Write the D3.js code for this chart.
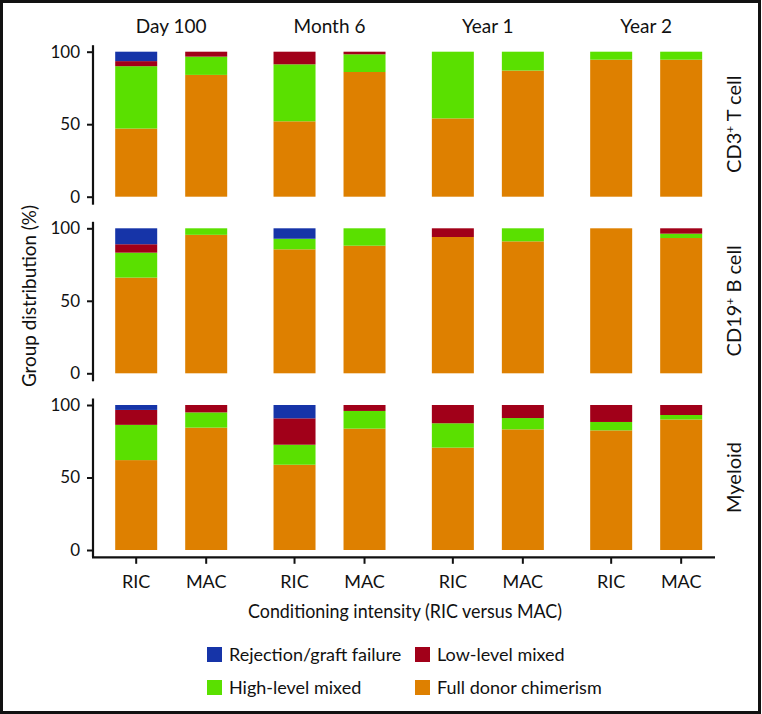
<!DOCTYPE html>
<html>
<head>
<meta charset="utf-8">
<script src="https://d3js.org/d3.v7.min.js"></script>
<style>
  body { margin: 0; background: #fff; }
  text { font-family: Lato, "Open Sans", sans-serif; fill: #111; }
</style>
</head>
<body>
<div id="chart"></div>
<script>
// data
const timepoints = ["Day 100", "Month 6", "Year 1", "Year 2"];
const arms = ["RIC", "MAC"];
const panels = ["CD3+ T cell", "CD19+ B cell", "Myeloid"];
const categories = ["full", "high", "low", "reject"];
const categoryLabels = ["Full donor chimerism", "High-level mixed", "Low-level mixed", "Rejection/graft failure"];
const yTicks = [0, 50, 100];

// each row: [full, high, low, reject] for RIC/MAC at each timepoint
const tcell = [
  [47, 43, 3.5, 6.5], [84, 12.6, 3.4, 0],
  [52, 39.3, 8.7, 0], [86, 12.2, 1.8, 0],
  [54, 46, 0, 0], [87, 13, 0, 0],
  [94.5, 5.5, 0, 0], [94.5, 5.5, 0, 0]
];
const bcell = [
  [66, 17.2, 5.8, 11], [95.5, 4.5, 0, 0],
  [85.5, 7.3, 0, 7.2], [88, 12, 0, 0],
  [94, 0, 6, 0], [91, 9, 0, 0],
  [100, 0, 0, 0], [93.3, 3, 3.7, 0]
];
const myeloid = [
  [62, 24.3, 10.3, 3.4], [84.4, 10.5, 5.1, 0],
  [58.8, 13.8, 18.2, 9.2], [83.7, 12.2, 4.1, 0],
  [70.6, 16.8, 12.6, 0], [83.2, 7.8, 9, 0],
  [82.5, 5.8, 11.7, 0], [90, 3.1, 6.9, 0]
];
const panelData = [tcell, bcell, myeloid];

const colors = {full: "#de8000", high: "#5ae000", low: "#a10019", reject: "#1634a8"};

const W = 762, H = 714;
const svg = d3.select("#chart").append("svg")
  .attr("width", W).attr("height", H);

// frame
svg.append("rect").attr("x", 1.5).attr("y", 1.5).attr("width", W - 4).attr("height", H - 3)
  .attr("fill", "none").attr("stroke", "#111").attr("stroke-width", 3);

const x = d3.scaleBand().domain(timepoints).range([92, 725.3]);
const xi = d3.scalePoint().domain(arms).range([44.2, 114.2]);
const barW = 42;
const panelTops = [51.7, 228.3, 405];
const panelH = 145;

panelData.forEach((rows, p) => {
  const y = d3.scaleLinear().domain([0, 100]).range([panelTops[p] + panelH, panelTops[p]]);
  const g = svg.append("g");

  // stack the rows
  const table = rows.map((r, i) => ({
    tp: timepoints[Math.floor(i / 2)], arm: arms[i % 2],
    full: r[0], high: r[1], low: r[2], reject: r[3]
  }));
  const stacked = d3.stack().keys(categories)(table);

  g.selectAll("g.layer").data(stacked).enter().append("g")
    .attr("fill", d => colors[d.key])
    .selectAll("rect").data(d => d).enter().append("rect")
    .attr("x", d => x(d.data.tp) + xi(d.data.arm) - barW / 2)
    .attr("width", barW)
    .attr("y", d => y(d[1]))
    .attr("height", d => y(d[0]) - y(d[1]));

  // y axis
  const ax = g.append("g").attr("transform", "translate(93,0)")
    .call(d3.axisLeft(y).tickValues(yTicks).tickSize(6).tickPadding(7));
  ax.select(".domain").remove();
  ax.selectAll(".tick line").attr("stroke", "#111").attr("stroke-width", 2);
  ax.selectAll(".tick text").style("font-size", "17px").attr("fill", "#111");
  const bottomEnd = p === 2 ? y(0) + 7.3 : y(0) + 8;
  g.append("line").attr("x1", 93).attr("x2", 93)
    .attr("y1", y(100) - 6.5).attr("y2", bottomEnd)
    .attr("stroke", "#111").attr("stroke-width", 2.2);

  // panel label on the right
  const lbl = g.append("text")
    .attr("transform", `translate(741,${panelTops[p] + panelH / 2}) rotate(-90)`)
    .attr("text-anchor", "middle").style("font-size", "20px");
  const name = panels[p];
  if (name.includes("+")) {
    const parts = name.split("+");
    lbl.append("tspan").text(parts[0]);
    lbl.append("tspan").attr("baseline-shift", "super").style("font-size", "12px").text("+");
    lbl.append("tspan").text(parts[1]);
  } else {
    lbl.text(name);
  }
});

// group labels
svg.selectAll("text.grp").data(timepoints).enter().append("text")
  .attr("class", "grp")
  .attr("x", d => x(d) + x.bandwidth() / 2)
  .attr("y", 32.5)
  .attr("text-anchor", "middle")
  .style("font-size", "19px")
  .text(d => d);

// x axis at the bottom
const xAxisY = 557.3;
svg.append("line").attr("x1", 92).attr("x2", 715).attr("y1", xAxisY).attr("y2", xAxisY)
  .attr("stroke", "#111").attr("stroke-width", 2.2);
const pairs = [];
timepoints.forEach(tp => arms.forEach(a => pairs.push({tp, a})));
svg.selectAll("line.xt").data(pairs).enter().append("line")
  .attr("x1", d => x(d.tp) + xi(d.a)).attr("x2", d => x(d.tp) + xi(d.a))
  .attr("y1", xAxisY).attr("y2", xAxisY + 6.5)
  .attr("stroke", "#111").attr("stroke-width", 2);
svg.selectAll("text.xt").data(pairs).enter().append("text")
  .attr("x", d => x(d.tp) + xi(d.a)).attr("y", 587.5)
  .attr("text-anchor", "middle").style("font-size", "18px")
  .text(d => d.a);

// axis titles
svg.append("text").attr("x", 405).attr("y", 618)
  .attr("text-anchor", "middle").style("font-size", "20px")
  .attr("textLength", 314).attr("lengthAdjust", "spacingAndGlyphs")
  .text("Conditioning intensity (RIC versus MAC)");
svg.append("text").attr("transform", "translate(36,296) rotate(-90)")
  .attr("text-anchor", "middle").style("font-size", "20px")
  .attr("textLength", 182).attr("lengthAdjust", "spacingAndGlyphs")
  .text("Group distribution (%)");

// legend
const legendOrder = ["reject", "low", "high", "full"];
const legendX = [207, 415];
const legendY = [647, 680];
const lg = svg.selectAll("g.leg").data(legendOrder).enter().append("g")
  .attr("transform", (d, i) => `translate(${legendX[i % 2]},${legendY[Math.floor(i / 2)]})`);
lg.append("rect").attr("width", 15).attr("height", 15).attr("fill", d => colors[d]);
lg.append("text").attr("x", 22).attr("y", 13.5).style("font-size", "18px")
  .text(d => categoryLabels[categories.indexOf(d)]);
</script>
</body>
</html>
